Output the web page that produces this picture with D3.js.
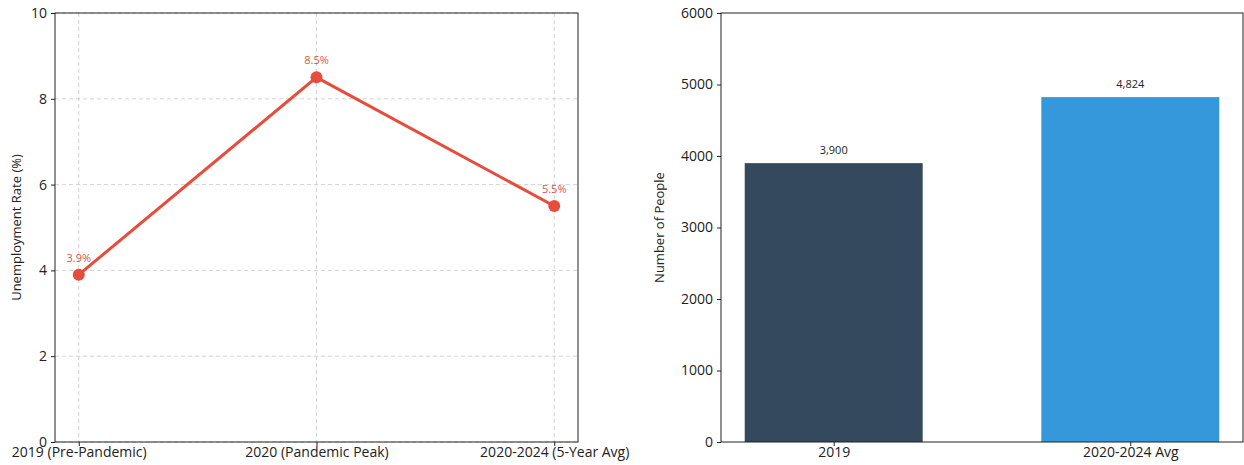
<!DOCTYPE html>
<html>
<head>
<meta charset="utf-8">
<script src="https://cdn.jsdelivr.net/npm/d3@7"></script>
<style>
body { margin: 0; background: #fff; }
svg text { font-family: "Open Sans", Lato, sans-serif; }
</style>
</head>
<body>
<svg id="chart" width="1244" height="465"></svg>
<script>
var periods = ["2019 (Pre-Pandemic)", "2020 (Pandemic Peak)", "2020-2024 (5-Year Avg)"];
var rates = [3.9, 8.5, 5.5];
var rateTicks = [0, 2, 4, 6, 8, 10];

var barCats = ["2019", "2020-2024 Avg"];
var people = [3900, 4824];
var barColors = ["#34495e", "#3498db"];
var peopleTicks = [0, 1000, 2000, 3000, 4000, 5000, 6000];

var svg = d3.select("#chart");
var plotTop = 13, plotBottom = 442;

// left: line chart
var lx0 = 55, lx1 = 578;
var xL = d3.scaleLinear().domain([-0.1, 2.1]).range([lx0, lx1]);
var yL = d3.scaleLinear().domain([0, 10]).range([plotBottom, plotTop]);

var gL = svg.append("g");

// grid
gL.selectAll("line.hg").data(rateTicks).enter().append("line")
    .attr("x1", lx0).attr("x2", lx1)
    .attr("y1", d => yL(d)).attr("y2", d => yL(d))
    .attr("stroke", "#c8c8c8").attr("stroke-dasharray", "4,3").attr("stroke-width", 0.8);
gL.selectAll("line.vg").data(periods).enter().append("line")
    .attr("x1", (d, i) => xL(i)).attr("x2", (d, i) => xL(i))
    .attr("y1", plotTop).attr("y2", plotBottom)
    .attr("stroke", "#c8c8c8").attr("stroke-dasharray", "4,3").attr("stroke-width", 0.8);

gL.append("g").attr("transform", "translate(" + lx0 + ",0)")
    .call(d3.axisLeft(yL).tickValues(rateTicks).tickSize(4).tickPadding(4))
    .call(g => g.select(".domain").remove());
gL.append("g").attr("transform", "translate(0," + plotBottom + ")")
    .call(d3.axisBottom(xL).tickValues([0, 1, 2]).tickFormat(i => periods[i]).tickSize(4).tickPadding(1))
    .call(g => g.select(".domain").remove());

gL.append("rect").attr("x", lx0).attr("y", plotTop).attr("width", lx1 - lx0).attr("height", plotBottom - plotTop)
    .attr("fill", "none").attr("stroke", "#222").attr("stroke-width", 1);

var line = d3.line().x((d, i) => xL(i)).y(d => yL(d));
gL.append("path").datum(rates).attr("d", line)
    .attr("fill", "none").attr("stroke", "#e74c3c").attr("stroke-width", 3);
gL.selectAll("circle").data(rates).enter().append("circle")
    .attr("cx", (d, i) => xL(i)).attr("cy", d => yL(d)).attr("r", 6)
    .attr("fill", "#e74c3c");
gL.selectAll("text.lbl").data(rates).enter().append("text")
    .attr("x", (d, i) => xL(i)).attr("y", d => yL(d) - 13)
    .attr("text-anchor", "middle").style("font-size", "11px").attr("fill", "#d9534a")
    .text(d => d.toFixed(1) + "%");

gL.append("text").attr("transform", "translate(21," + ((plotTop + plotBottom) / 2) + ") rotate(-90)")
    .attr("text-anchor", "middle").style("font-size", "13px").attr("fill", "#222")
    .text("Unemployment Rate (%)");

// right: bar chart
var rx0 = 721, rx1 = 1243;
var xR = d3.scaleLinear().domain([-0.38, 1.38]).range([rx0, rx1]);
var yR = d3.scaleLinear().domain([0, 6000]).range([plotBottom, plotTop]);
var gR = svg.append("g");

gR.append("g").attr("transform", "translate(" + rx0 + ",0)")
    .call(d3.axisLeft(yR).tickValues(peopleTicks).tickFormat(d3.format("d")).tickSize(4).tickPadding(4))
    .call(g => g.select(".domain").remove());
gR.append("g").attr("transform", "translate(0," + plotBottom + ")")
    .call(d3.axisBottom(xR).tickValues([0, 1]).tickFormat(i => barCats[i]).tickSize(4).tickPadding(1))
    .call(g => g.select(".domain").remove());

gR.selectAll("rect.bar").data(people).enter().append("rect")
    .attr("x", (d, i) => xR(i - 0.3)).attr("width", (d, i) => xR(i + 0.3) - xR(i - 0.3))
    .attr("y", d => yR(d)).attr("height", d => plotBottom - yR(d))
    .attr("fill", (d, i) => barColors[i]);
gR.selectAll("text.lbl").data(people).enter().append("text")
    .attr("x", (d, i) => xR(i)).attr("y", d => yR(d) - 9)
    .attr("text-anchor", "middle").style("font-size", "11px").attr("fill", "#222")
    .text(d => d3.format(",")(d));

gR.append("rect").attr("x", rx0).attr("y", plotTop).attr("width", rx1 - rx0).attr("height", plotBottom - plotTop)
    .attr("fill", "none").attr("stroke", "#222").attr("stroke-width", 1);

gR.append("text").attr("transform", "translate(664," + ((plotTop + plotBottom) / 2) + ") rotate(-90)")
    .attr("text-anchor", "middle").style("font-size", "13px").attr("fill", "#222")
    .text("Number of People");

svg.selectAll(".tick text").style("font-size", "14px").attr("fill", "#222");
svg.selectAll(".tick line").attr("stroke", "#222");
</script>
</body>
</html>
